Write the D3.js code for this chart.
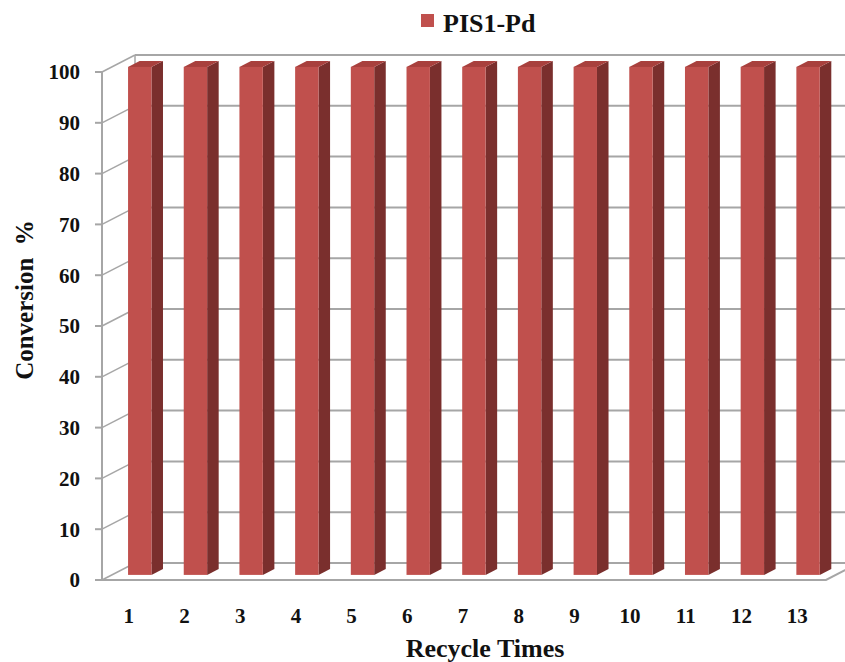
<!DOCTYPE html>
<html>
<head>
<meta charset="utf-8">
<title>PIS1-Pd recycle</title>
<script src="https://cdnjs.cloudflare.com/ajax/libs/d3/7.8.5/d3.min.js"></script>
<style>
  body { margin: 0; background: #fff; }
  text { font-family: "Liberation Serif", "Times New Roman", Times, "DejaVu Serif", serif; font-weight: bold; fill: #111; }
</style>
</head>
<body>
<div id="chart"></div>
<script>
// data
const cycles = ["1","2","3","4","5","6","7","8","9","10","11","12","13"];
const conversion = [100,100,100,100,100,100,100,100,100,100,100,100,100];
const yTicks = [0,10,20,30,40,50,60,70,80,90,100];
const seriesName = "PIS1-Pd";

const W = 845, H = 662;
const svg = d3.select("#chart").append("svg").attr("width", W).attr("height", H);
const serif = "'Liberation Serif', 'Times New Roman', Times, 'DejaVu Serif', serif";

// front plane of the 3d box
const x0 = 102, x1 = 826;
const y = d3.scaleLinear().domain([0, 100]).range([580, 72]);
const x = d3.scaleBand().domain(cycles).range([x0, x1]).paddingInner(0).paddingOuter(0);
// depth vector
const DX = 33, DY = -17;
const dStart = 0.3, dEnd = 0.65;
const grid = "#a6a6a6";

// back wall gridlines
const g = svg.append("g");
yTicks.forEach(t => {
  g.append("line")
    .attr("x1", x0 + DX).attr("x2", x1 + DX)
    .attr("y1", y(t) + DY).attr("y2", y(t) + DY)
    .attr("stroke", grid).attr("stroke-width", 2);
  // side wall diagonals
  g.append("line")
    .attr("x1", x0).attr("y1", y(t))
    .attr("x2", x0 + DX).attr("y2", y(t) + DY)
    .attr("stroke", grid).attr("stroke-width", 1.5);
});
// back wall left edge
g.append("line")
  .attr("x1", x0 + DX).attr("x2", x0 + DX)
  .attr("y1", y(0) + DY).attr("y2", y(100) + DY)
  .attr("stroke", grid).attr("stroke-width", 1.5);

// floor front edge + right diagonal
g.append("path")
  .attr("d", `M${x0},${y(0)}L${x1},${y(0)}L${x1 + DX},${y(0) + DY}`)
  .attr("fill", "none").attr("stroke", grid).attr("stroke-width", 2);

// bars
const bw = x.bandwidth() * 0.42;
const bars = svg.append("g").selectAll("g")
  .data(cycles.map((c, i) => ({ c, v: conversion[i] })))
  .enter().append("g");

bars.each(function(d) {
  const sel = d3.select(this);
  const cx = x(d.c) + x.bandwidth() / 2 + DX * dStart;
  const l = cx - bw / 2, r = cx + bw / 2;
  const top = y(d.v) + DY * dStart;
  const bot = y(0) + DY * dStart;
  const sx = DX * (dEnd - dStart), sy = DY * (dEnd - dStart);
  // side
  sel.append("path")
    .attr("d", `M${r},${top}L${r + sx},${top + sy}L${r + sx},${bot + sy}L${r},${bot}Z`)
    .attr("fill", "#7a2f2d");
  // top
  sel.append("path")
    .attr("d", `M${l},${top}L${l + sx},${top + sy}L${r + sx},${top + sy}L${r},${top}Z`)
    .attr("fill", "#a8403d");
  // front
  sel.append("rect")
    .attr("x", l).attr("y", top)
    .attr("width", bw).attr("height", bot - top)
    .attr("fill", "#c0504d");
});

// front y axis
const ax = svg.append("g");
ax.append("line")
  .attr("x1", x0).attr("x2", x0).attr("y1", y(0)).attr("y2", y(100))
  .attr("stroke", grid).attr("stroke-width", 2);
yTicks.forEach(t => {
  ax.append("line")
    .attr("x1", x0 - 7).attr("x2", x0).attr("y1", y(t)).attr("y2", y(t))
    .attr("stroke", grid).attr("stroke-width", 2);
  ax.append("text")
    .attr("x", 80).attr("y", y(t)).attr("dy", "0.35em")
    .attr("text-anchor", "end")
    .attr("font-family", serif)
    .style("font-size", "21px")
    .text(t);
});

// x labels
svg.append("g").selectAll("text")
  .data(cycles).enter().append("text")
  .attr("x", d => x(d) + x.bandwidth() / 2 - 1)
  .attr("y", 623)
  .attr("text-anchor", "middle")
  .attr("font-family", serif)
  .style("font-size", "21px")
  .text(d => d);

// axis titles
svg.append("text")
  .attr("x", 485).attr("y", 657)
  .attr("text-anchor", "middle")
  .attr("font-family", serif)
  .style("font-size", "26px")
  .text("Recycle Times");

svg.append("text")
  .attr("transform", "translate(33,300) rotate(-90)")
  .attr("text-anchor", "middle")
  .attr("font-family", serif)
  .style("font-size", "25px")
  .style("white-space", "pre")
  .text("Conversion  %");

// legend
svg.append("rect")
  .attr("x", 421).attr("y", 14).attr("width", 13).attr("height", 13)
  .attr("fill", "#c0504d");
svg.append("text")
  .attr("x", 443).attr("y", 32)
  .attr("font-family", serif)
  .style("font-size", "26px")
  .text(seriesName);
</script>
</body>
</html>
